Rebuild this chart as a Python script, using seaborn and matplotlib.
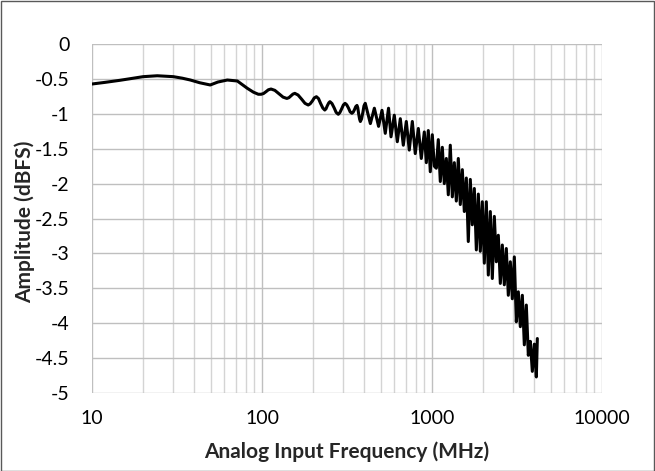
import numpy as np
import pandas as pd
import matplotlib
matplotlib.use("Agg")
import matplotlib.pyplot as plt
from matplotlib.ticker import FixedLocator, FuncFormatter, LogLocator, NullFormatter
from matplotlib.patches import Rectangle
import seaborn as sns

# ---- data (frequency in MHz, amplitude in dBFS) ----
freq_low = [10, 11.9, 14.6, 17, 20.0, 24.2, 30.1, 34, 37.9, 43, 49.6, 55, 62.5, 71.6, 82.0, 89, 95.1]
amp_low = [-0.573, -0.55, -0.52, -0.495, -0.468, -0.455, -0.468, -0.49, -0.516, -0.555, -0.587,
           -0.545, -0.516, -0.53, -0.635, -0.69, -0.72]

freq_mid = [98.8, 102, 105.6, 109, 113, 119, 126, 133, 140, 144, 148, 152, 156, 163, 171, 179, 187,
            192, 198, 203, 209, 215, 221, 228, 234, 238, 242, 247, 251, 258, 266, 273, 281, 287, 294,
            301, 308, 315, 323, 330, 338, 344, 350, 356, 362, 366, 370, 375, 379, 385, 392, 398]
amp_mid = [-0.72, -0.71, -0.683, -0.656, -0.645, -0.664, -0.713, -0.761, -0.78, -0.769, -0.744, -0.718,
           -0.707, -0.731, -0.79, -0.85, -0.874, -0.857, -0.815, -0.772, -0.755, -0.782, -0.85, -0.918,
           -0.946, -0.928, -0.886, -0.844, -0.826, -0.853, -0.917, -0.98, -1.007, -0.983, -0.93, -0.874,
           -0.85, -0.871, -0.92, -0.972, -0.993, -0.976, -0.94, -0.897, -0.88, -0.914, -0.995, -1.076,
           -1.11, -1.074, -0.98, -0.886]

freq_rip = [405, 434, 458, 485, 508, 531, 555, 574, 600, 625, 651, 678, 706, 735, 766, 797, 831, 865, 901]
amp_rip = [-0.85, -1.14, -0.92, -1.18, -0.95, -1.28, -0.92, -1.33, -1.02, -1.40, -1.07, -1.45, -1.11,
           -1.52, -1.11, -1.57, -1.21, -1.64, -1.26]

freq_hi = [926, 951, 977, 1004, 1032, 1060, 1089, 1119, 1150, 1181, 1214, 1247, 1281, 1317, 1353, 1390,
           1428, 1467, 1508, 1549, 1592, 1635, 1680, 1726, 1774, 1823, 1873, 1924, 1977, 2031, 2087, 2144,
           2203, 2264, 2326, 2390, 2455, 2523, 2592, 2663, 2736, 2811, 2889, 2968, 3050, 3133, 3219, 3308,
           3399, 3492, 3588, 3686, 3788, 3892, 3999, 4109, 4165]
amp_hi = [-1.70, -1.24, -1.83, -1.30, -1.75, -1.78, -1.37, -1.97, -1.48, -2.00, -1.64, -2.16, -1.45, -2.19,
          -1.70, -2.25, -1.64, -2.30, -1.80, -2.40, -1.92, -2.83, -1.94, -2.59, -2.07, -2.95, -2.15, -2.97,
          -2.26, -3.14, -2.26, -3.31, -2.40, -3.36, -2.47, -3.12, -2.74, -3.43, -2.88, -3.45, -2.93, -3.60,
          -3.12, -3.65, -3.05, -3.98, -3.55, -4.05, -3.60, -4.31, -3.74, -4.46, -4.26, -4.69, -4.30, -4.77,
          -4.22]

x_ticks = [10, 100, 1000, 10000]
y_ticks = [0, -0.5, -1, -1.5, -2, -2.5, -3, -3.5, -4, -4.5, -5]
x_label = "Analog Input Frequency (MHz)"
y_label = "Amplitude (dBFS)"

df = pd.DataFrame({
    "freq": freq_low + freq_mid + freq_rip + freq_hi,
    "amp": amp_low + amp_mid + amp_rip + amp_hi,
})

sns.set_theme(style="white")
plt.rcParams["font.family"] = ["Lato", "DejaVu Sans"]
plt.rcParams["axes.unicode_minus"] = False

fig = plt.figure(figsize=(6.55, 4.71), dpi=100)
ax = fig.add_axes([92 / 655, 1 - 393 / 471, 510 / 655, 349 / 471])

sns.lineplot(data=df, x="freq", y="amp", ax=ax, color="black", linewidth=2.2,
             estimator=None, sort=False)

ax.set_xscale("log")
ax.set_xlim(10, 10000)
ax.set_ylim(-5, 0)
ax.xaxis.set_major_locator(FixedLocator(x_ticks))
ax.xaxis.set_major_formatter(FuncFormatter(lambda v, p: f"{v:g}"))
ax.xaxis.set_minor_locator(LogLocator(base=10, subs=np.arange(2, 10), numticks=20))
ax.xaxis.set_minor_formatter(NullFormatter())
ax.yaxis.set_major_locator(FixedLocator(y_ticks))
ax.yaxis.set_major_formatter(FuncFormatter(lambda v, p: f"{v:g}"))

ax.grid(True, which="major", axis="both", color="#bfbfbf", linewidth=1.0)
ax.grid(True, which="minor", axis="x", color="#d4d4d4", linewidth=1.0)
for s in ax.spines.values():
    s.set_visible(False)
ax.tick_params(axis="both", which="both", length=0, labelsize=14, colors="black")
ax.tick_params(axis="y", pad=16)
ax.tick_params(axis="x", pad=12)
ax.set_xlabel("")
ax.set_ylabel("")

fig.text(347 / 655, 1 - 452 / 471, x_label, ha="center", va="center",
         fontsize=15, fontweight="bold")
fig.text(25 / 655, 1 - 222 / 471, y_label, ha="center", va="center",
         rotation=90, fontsize=15, fontweight="bold")

fig.patches.append(Rectangle((0.001, 0.001), 0.997, 0.997, transform=fig.transFigure,
                             fill=False, edgecolor="#595959", linewidth=1.0))

fig.savefig("out.png", dpi=100)
